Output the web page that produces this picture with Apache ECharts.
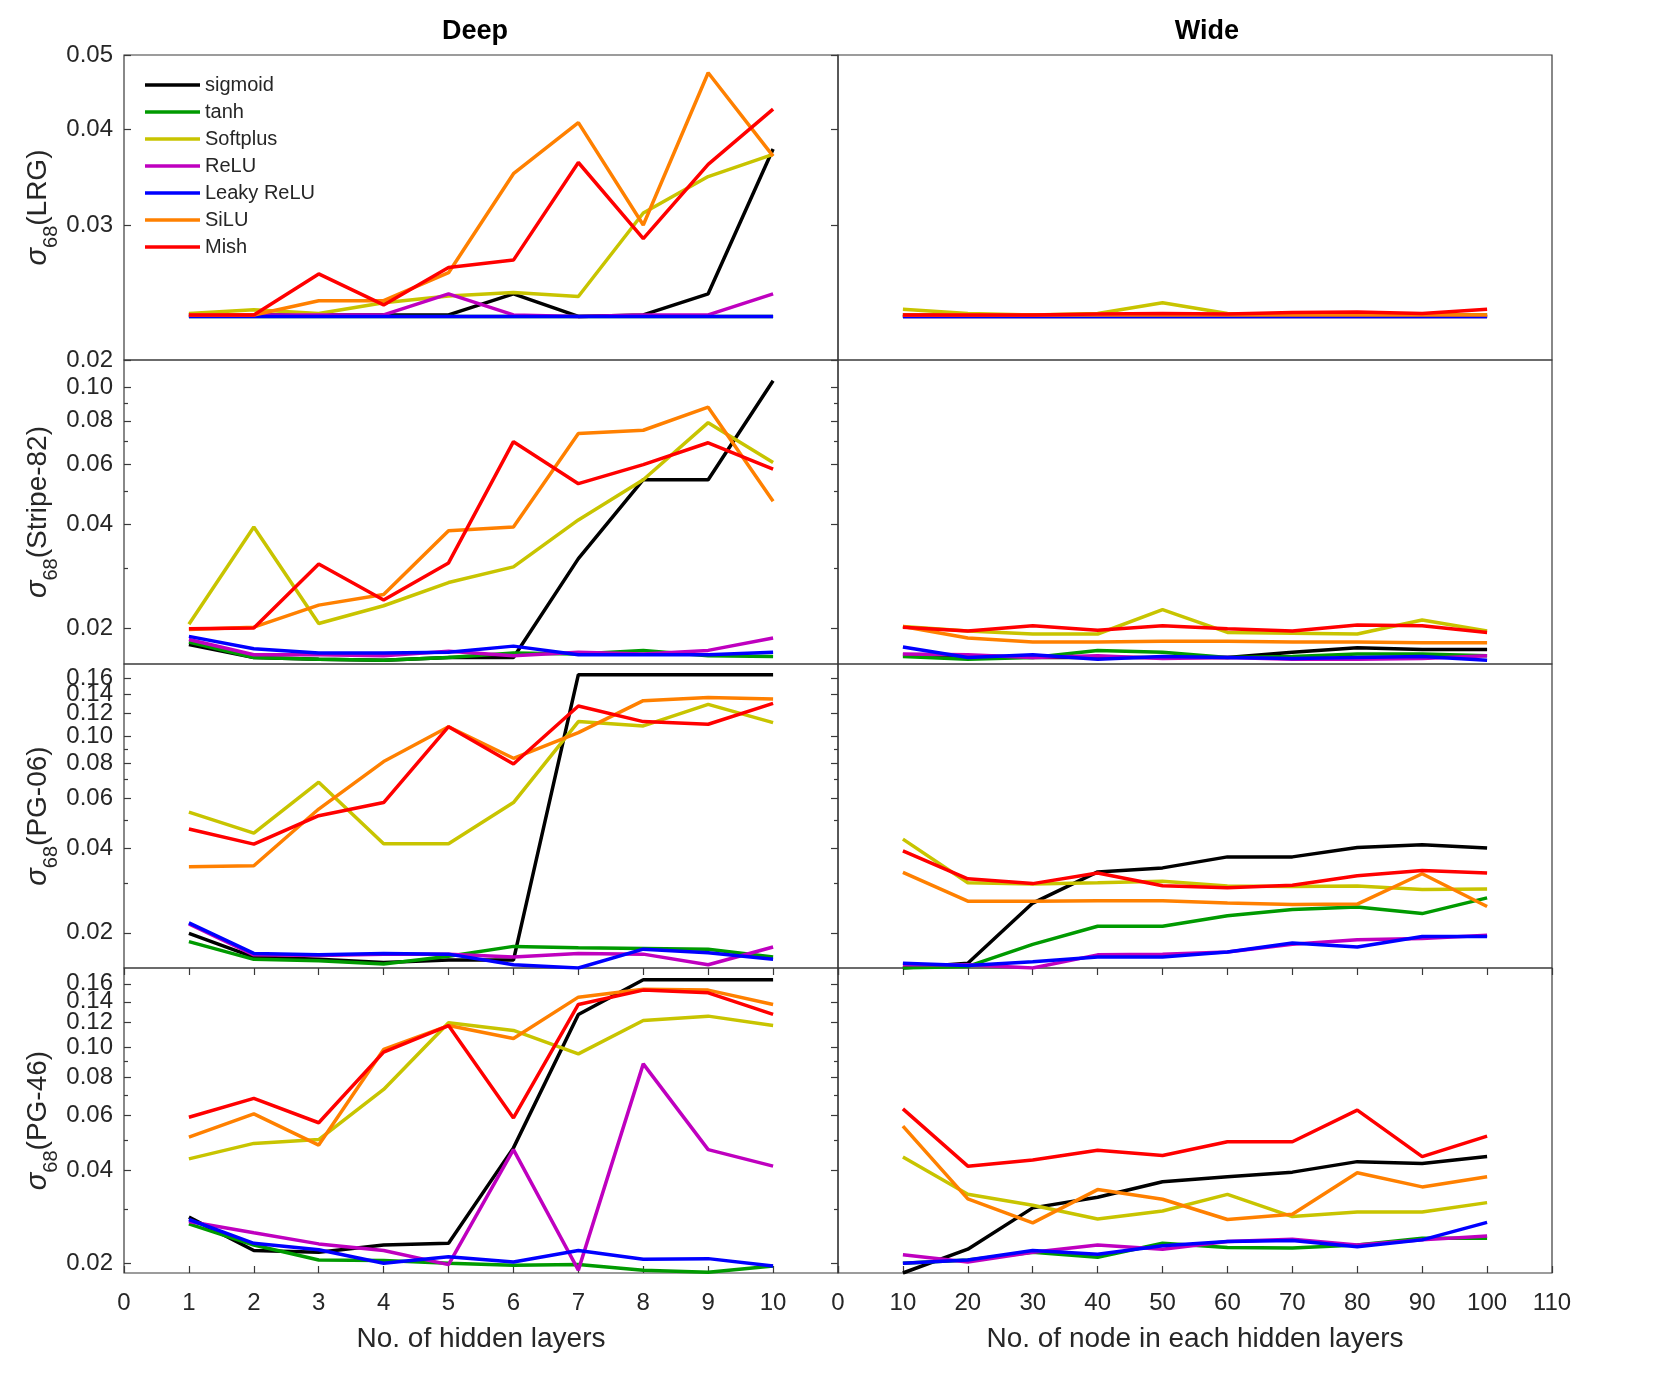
<!DOCTYPE html>
<html>
<head>
<meta charset="utf-8">
<script src="https://cdn.jsdelivr.net/npm/echarts@6.0.0/dist/echarts.min.js"></script>
<style>
html,body{margin:0;padding:0;background:#ffffff;}
#chart{width:1661px;height:1384px;}
</style>
</head>
<body>
<div id="chart"></div>
<script>
// ---------------- DATA ----------------
const seriesNames = ['sigmoid', 'tanh', 'Softplus', 'ReLU', 'Leaky ReLU', 'SiLU', 'Mish'];
const xDeep = [1, 2, 3, 4, 5, 6, 7, 8, 9, 10];
const xWide = [10, 20, 30, 40, 50, 60, 70, 80, 90, 100];
const rowLabels = ['LRG', 'Stripe-82', 'PG-06', 'PG-46'];
const panelTitles = ['Deep', 'Wide'];
const xNames = ['No. of hidden layers', 'No. of node in each hidden layers'];

// LRG - Deep
const lrgDeep_sigmoid  = [0.0229, 0.0229, 0.0229, 0.0229, 0.0229, 0.0244, 0.0228, 0.0229, 0.0244, 0.0377];
const lrgDeep_tanh     = [0.0228, 0.0228, 0.0228, 0.0228, 0.0228, 0.0228, 0.0228, 0.0228, 0.0228, 0.0228];
const lrgDeep_softplus = [0.0230, 0.02326, 0.0230, 0.02375, 0.02424, 0.0245, 0.0242, 0.0311, 0.0347, 0.0371];
const lrgDeep_relu     = [0.0229, 0.0229, 0.0229, 0.0229, 0.0244, 0.0229, 0.0228, 0.0229, 0.0229, 0.0244];
const lrgDeep_leaky    = [0.0228, 0.0228, 0.0228, 0.0228, 0.0228, 0.0228, 0.0228, 0.0228, 0.0228, 0.0228];
const lrgDeep_silu     = [0.0229, 0.0229, 0.0239, 0.0239, 0.0260, 0.0350, 0.0408, 0.0300, 0.0474, 0.0369];
const lrgDeep_mish     = [0.0229, 0.0229, 0.0259, 0.0236, 0.0264, 0.0270, 0.0362, 0.0288, 0.0360, 0.0425];
// LRG - Wide
const lrgWide_sigmoid  = [0.0229, 0.0229, 0.0229, 0.0229, 0.0229, 0.0229, 0.0229, 0.0229, 0.0229, 0.0229];
const lrgWide_tanh     = [0.0228, 0.0228, 0.0228, 0.0228, 0.0228, 0.0228, 0.0228, 0.0228, 0.0228, 0.0228];
const lrgWide_softplus = [0.0233, 0.0230, 0.0229, 0.0230, 0.02375, 0.0230, 0.0229, 0.0229, 0.0229, 0.0229];
const lrgWide_relu     = [0.0228, 0.0228, 0.0228, 0.0228, 0.0228, 0.0228, 0.0228, 0.0228, 0.0228, 0.0228];
const lrgWide_leaky    = [0.0228, 0.0228, 0.0228, 0.0228, 0.0228, 0.0228, 0.0228, 0.0228, 0.0228, 0.0228];
const lrgWide_silu     = [0.0229, 0.0229, 0.0229, 0.0229, 0.0229, 0.0229, 0.0229, 0.0229, 0.0229, 0.0229];
const lrgWide_mish     = [0.0229, 0.0229, 0.0229, 0.02296, 0.0230, 0.02296, 0.02306, 0.0231, 0.0230, 0.0233];

// Stripe-82 - Deep
const s82Deep_sigmoid  = [0.0180, 0.0165, 0.0163, 0.0162, 0.0165, 0.0165, 0.0319, 0.0540, 0.0540, 0.1045];
const s82Deep_tanh     = [0.0183, 0.0165, 0.0163, 0.0162, 0.0165, 0.0170, 0.0169, 0.0173, 0.0167, 0.0166];
const s82Deep_softplus = [0.0206, 0.0394, 0.0207, 0.0233, 0.0272, 0.0302, 0.0413, 0.0540, 0.0790, 0.0606];
const s82Deep_relu     = [0.0186, 0.0168, 0.0168, 0.0167, 0.0172, 0.0167, 0.0171, 0.0169, 0.0173, 0.0188];
const s82Deep_leaky    = [0.0190, 0.0175, 0.0170, 0.0170, 0.0171, 0.0178, 0.0168, 0.0168, 0.0168, 0.0171];
const s82Deep_silu     = [0.0199, 0.0202, 0.0234, 0.0251, 0.0384, 0.0394, 0.0735, 0.0751, 0.0876, 0.0468];
const s82Deep_mish     = [0.0200, 0.0201, 0.0308, 0.0242, 0.0310, 0.0696, 0.0526, 0.0597, 0.0691, 0.0580];
// Stripe-82 - Wide
const s82Wide_sigmoid  = [0.0168, 0.0167, 0.0165, 0.0165, 0.0165, 0.0165, 0.0171, 0.0176, 0.0174, 0.0174];
const s82Wide_tanh     = [0.0166, 0.0163, 0.0165, 0.0173, 0.0171, 0.0165, 0.0166, 0.0169, 0.0169, 0.0167];
const s82Wide_softplus = [0.0203, 0.0197, 0.0193, 0.0193, 0.0227, 0.0195, 0.0194, 0.0193, 0.0212, 0.0197];
const s82Wide_relu     = [0.0169, 0.0168, 0.0165, 0.0167, 0.0164, 0.0165, 0.0163, 0.0163, 0.0164, 0.0167];
const s82Wide_leaky    = [0.0177, 0.0165, 0.0168, 0.0163, 0.0166, 0.0165, 0.0164, 0.0165, 0.0166, 0.0162];
const s82Wide_silu     = [0.0203, 0.0188, 0.0183, 0.0183, 0.0184, 0.0184, 0.0183, 0.0183, 0.0182, 0.0182];
const s82Wide_mish     = [0.0202, 0.0197, 0.0204, 0.0198, 0.0204, 0.0200, 0.0197, 0.0205, 0.0204, 0.0195];

// PG-06 - Deep
const pg06Deep_sigmoid  = [0.0199, 0.0164, 0.0161, 0.0157, 0.0160, 0.0160, 0.1650, 0.1650, 0.1650, 0.1650];
const pg06Deep_tanh     = [0.0186, 0.0161, 0.0159, 0.0155, 0.0165, 0.0179, 0.0177, 0.0176, 0.0175, 0.0164];
const pg06Deep_softplus = [0.0536, 0.0452, 0.0685, 0.0414, 0.0414, 0.0580, 0.1124, 0.1085, 0.1294, 0.1115];
const pg06Deep_relu     = [0.0215, 0.0167, 0.0166, 0.0168, 0.0168, 0.0164, 0.0169, 0.0168, 0.0154, 0.0178];
const pg06Deep_leaky    = [0.0217, 0.0169, 0.0167, 0.0169, 0.0168, 0.0154, 0.0150, 0.0175, 0.0170, 0.0161];
const pg06Deep_silu     = [0.0343, 0.0346, 0.0550, 0.0811, 0.1078, 0.0833, 0.1027, 0.1334, 0.1370, 0.1352];
const pg06Deep_mish     = [0.0467, 0.0413, 0.0521, 0.0580, 0.1078, 0.0795, 0.1277, 0.1124, 0.1100, 0.1305];
// PG-06 - Wide
const pg06Wide_sigmoid  = [0.0150, 0.0156, 0.0255, 0.0329, 0.0340, 0.0372, 0.0372, 0.0402, 0.0411, 0.0400];
const pg06Wide_tanh     = [0.0150, 0.0152, 0.0182, 0.0211, 0.0211, 0.0230, 0.0242, 0.0247, 0.0234, 0.0266];
const pg06Wide_softplus = [0.0430, 0.0301, 0.0298, 0.0301, 0.0305, 0.0293, 0.0292, 0.0293, 0.0285, 0.0286];
const pg06Wide_relu     = [0.0154, 0.0154, 0.0150, 0.0167, 0.0168, 0.0171, 0.0182, 0.0189, 0.0191, 0.0196];
const pg06Wide_leaky    = [0.0156, 0.0153, 0.0158, 0.0164, 0.0164, 0.0171, 0.0184, 0.0178, 0.0194, 0.0194];
const pg06Wide_silu     = [0.0328, 0.0259, 0.0259, 0.0260, 0.0260, 0.0255, 0.0252, 0.0253, 0.0324, 0.0248];
const pg06Wide_mish     = [0.0391, 0.0311, 0.0299, 0.0326, 0.0294, 0.0289, 0.0295, 0.0319, 0.0333, 0.0326];

// PG-46 - Deep
const pg46Deep_sigmoid  = [0.0282, 0.0220, 0.0217, 0.0229, 0.0232, 0.0472, 0.1274, 0.1650, 0.1650, 0.1650];
const pg46Deep_tanh     = [0.0268, 0.0229, 0.0205, 0.0204, 0.0200, 0.0197, 0.0198, 0.0190, 0.0187, 0.0196];
const pg46Deep_softplus = [0.0435, 0.0488, 0.0502, 0.0729, 0.1197, 0.1131, 0.0950, 0.1218, 0.1258, 0.1173];
const pg46Deep_relu     = [0.0273, 0.0251, 0.0231, 0.0220, 0.0198, 0.0466, 0.0190, 0.0882, 0.0466, 0.0412];
const pg46Deep_leaky    = [0.0277, 0.0232, 0.0221, 0.0200, 0.0210, 0.0202, 0.0220, 0.0206, 0.0207, 0.0196];
const pg46Deep_silu     = [0.0511, 0.0608, 0.0482, 0.0982, 0.1173, 0.1065, 0.1449, 0.1536, 0.1527, 0.1372];
const pg46Deep_mish     = [0.0593, 0.0682, 0.0569, 0.0962, 0.1173, 0.0590, 0.1372, 0.1527, 0.1496, 0.1274];
// PG-46 - Wide
const pg46Wide_sigmoid  = [0.0186, 0.0222, 0.0302, 0.0327, 0.0367, 0.0381, 0.0394, 0.0426, 0.0420, 0.0443];
const pg46Wide_tanh     = [0.0200, 0.0205, 0.0217, 0.0209, 0.0232, 0.0225, 0.0224, 0.0229, 0.0241, 0.0241];
const pg46Wide_softplus = [0.0441, 0.0334, 0.0308, 0.0278, 0.0295, 0.0334, 0.0283, 0.0293, 0.0293, 0.0314];
const pg46Wide_relu     = [0.0213, 0.0202, 0.0217, 0.0229, 0.0222, 0.0235, 0.0239, 0.0229, 0.0238, 0.0245];
const pg46Wide_leaky    = [0.0200, 0.0205, 0.0220, 0.0214, 0.0228, 0.0235, 0.0237, 0.0226, 0.0238, 0.0271];
const pg46Wide_silu     = [0.0555, 0.0323, 0.0270, 0.0346, 0.0322, 0.0277, 0.0288, 0.0392, 0.0353, 0.0381];
const pg46Wide_mish     = [0.0631, 0.0412, 0.0431, 0.0464, 0.0446, 0.0494, 0.0494, 0.0625, 0.0442, 0.0515];

// Axis ranges and tick values (log-scaled y axes)
const yRanges = [[0.02, 0.05], [0.0158, 0.12], [0.015, 0.18], [0.0186, 0.18]];
const yMajorTicks = [
  [0.02, 0.03, 0.04, 0.05],
  [0.02, 0.04, 0.06, 0.08, 0.10],
  [0.02, 0.04, 0.06, 0.08, 0.10, 0.12, 0.14, 0.16],
  [0.02, 0.04, 0.06, 0.08, 0.10, 0.12, 0.14, 0.16]
];
const yMinorTicks = [
  [],
  [0.03, 0.05, 0.07, 0.09],
  [0.03, 0.05, 0.07, 0.09],
  [0.03, 0.05, 0.07, 0.09]
];

// ---------------- STYLE / LAYOUT ----------------
const colors = ['#000000', '#009a00', '#c8c400', '#bf00bf', '#0000ff', '#ff8000', '#ff0000'];
const panelData = [
  [[lrgDeep_sigmoid, lrgDeep_tanh, lrgDeep_softplus, lrgDeep_relu, lrgDeep_leaky, lrgDeep_silu, lrgDeep_mish],
   [lrgWide_sigmoid, lrgWide_tanh, lrgWide_softplus, lrgWide_relu, lrgWide_leaky, lrgWide_silu, lrgWide_mish]],
  [[s82Deep_sigmoid, s82Deep_tanh, s82Deep_softplus, s82Deep_relu, s82Deep_leaky, s82Deep_silu, s82Deep_mish],
   [s82Wide_sigmoid, s82Wide_tanh, s82Wide_softplus, s82Wide_relu, s82Wide_leaky, s82Wide_silu, s82Wide_mish]],
  [[pg06Deep_sigmoid, pg06Deep_tanh, pg06Deep_softplus, pg06Deep_relu, pg06Deep_leaky, pg06Deep_silu, pg06Deep_mish],
   [pg06Wide_sigmoid, pg06Wide_tanh, pg06Wide_softplus, pg06Wide_relu, pg06Wide_leaky, pg06Wide_silu, pg06Wide_mish]],
  [[pg46Deep_sigmoid, pg46Deep_tanh, pg46Deep_softplus, pg46Deep_relu, pg46Deep_leaky, pg46Deep_silu, pg46Deep_mish],
   [pg46Wide_sigmoid, pg46Wide_tanh, pg46Wide_softplus, pg46Wide_relu, pg46Wide_leaky, pg46Wide_silu, pg46Wide_mish]]
];

const FONT = '"Liberation Sans", Arimo, Arial, Helvetica, sans-serif';
const TEXT = '#262626';
const BORDER = '#3a3a3a';
const TOPS = [55, 360, 664, 968];
const HEIGHTS = [305, 304, 304, 305];
const LEFTS = [124, 838];
const WIDTH = 714;
const LINE_W = 3.5;

const grids = [], xAxes = [], yAxes = [], series = [];

for (let r = 0; r < 4; r++) {
  for (let c = 0; c < 2; c++) {
    const gi = grids.length;
    const bottomRow = (r === 3);
    const xMax = c === 0 ? 11 : 110;
    const xInt = c === 0 ? 1 : 10;
    grids.push({
      left: LEFTS[c], top: TOPS[r], width: WIDTH, height: HEIGHTS[r],
      show: true, borderColor: BORDER, borderWidth: 1.2, backgroundColor: 'transparent'
    });
    const xi = xAxes.length;
    xAxes.push({
      type: 'value', gridIndex: gi, min: 0, max: xMax, interval: xInt, position: 'bottom',
      axisLine: { show: false }, splitLine: { show: false },
      axisTick: { show: bottomRow, inside: true, length: 7, lineStyle: { color: BORDER, width: 1.2 } },
      axisLabel: {
        show: bottomRow, margin: 18, fontSize: 24, color: TEXT, fontFamily: FONT,
        showMinLabel: true, showMaxLabel: true,
        formatter: (v) => (c === 0 && v === 11) ? '' : String(v)
      },
      name: bottomRow ? xNames[c] : '', nameLocation: 'middle', nameGap: 52,
      nameTextStyle: { fontSize: 28, color: TEXT, fontFamily: FONT }
    });
    if (bottomRow) {
      xAxes.push({
        type: 'value', gridIndex: gi, min: 0, max: xMax, interval: xInt, position: 'top',
        axisLine: { show: false }, splitLine: { show: false },
        axisTick: { show: true, inside: true, length: 7, lineStyle: { color: BORDER, width: 1.2 } },
        axisLabel: { show: false }
      });
    }
    const yi = yAxes.length;
    yAxes.push({
      type: 'log', logBase: 10, gridIndex: gi, min: yRanges[r][0], max: yRanges[r][1],
      axisLine: { show: false }, axisTick: { show: false }, axisLabel: { show: false },
      splitLine: { show: false }, minorTick: { show: false }
    });
    if (c === 0) {
      const lmin = Math.log10(yRanges[r][0]);
      const lmax = Math.log10(yRanges[r][1]);
      const majors = yMajorTicks[r].map((v) => Math.log10(v));
      const minors = yMinorTicks[r].map((v) => Math.log10(v));
      // tick-only overlay axes (log10 space, values from the tick arrays)
      const tickAxis = (pos, vals, len) => ({
        type: 'value', gridIndex: gi, position: pos, min: lmin, max: lmax,
        axisLine: { show: false }, splitLine: { show: false },
        axisTick: { show: true, inside: true, length: len, customValues: vals,
                    lineStyle: { color: BORDER, width: 1.2 } },
        axisLabel: { show: false }
      });
      // label-only overlay axes; alternate labels on two axes so overlapping ones are all kept
      const labelAxis = (vals) => ({
        type: 'value', gridIndex: gi, position: 'left', min: lmin, max: lmax,
        axisLine: { show: false }, splitLine: { show: false },
        axisTick: { show: false },
        axisLabel: {
          show: true, customValues: vals, margin: 11, fontSize: 24, color: TEXT, fontFamily: FONT,
          showMinLabel: true, showMaxLabel: true, hideOverlap: false,
          formatter: (v) => Math.pow(10, v).toFixed(2)
        }
      });
      const evenLabels = majors.filter((v, i) => i % 2 === 0);
      const oddLabels = majors.filter((v, i) => i % 2 === 1);
      const named = labelAxis(evenLabels);
      named.name = '{s|σ}{sub|68}{p|(' + rowLabels[r] + ')}';
      named.nameLocation = 'middle';
      named.nameRotate = 90;
      named.nameGap = 63;
      named.nameTextStyle = {
        color: TEXT, fontFamily: FONT, fontSize: 28,
        rich: {
          s: { fontSize: 29, fontStyle: 'italic', color: TEXT, fontFamily: FONT, lineHeight: 46, verticalAlign: 'middle' },
          sub: { fontSize: 20, color: TEXT, fontFamily: FONT, lineHeight: 19, verticalAlign: 'bottom' },
          p: { fontSize: 28, color: TEXT, fontFamily: FONT, lineHeight: 46, verticalAlign: 'middle' }
        }
      };
      yAxes.push(named);
      if (oddLabels.length) yAxes.push(labelAxis(oddLabels));
      yAxes.push(tickAxis('left', majors, 7));
      if (minors.length) yAxes.push(tickAxis('left', minors, 4));
      yAxes.push(tickAxis('right', majors, 7));
      if (minors.length) yAxes.push(tickAxis('right', minors, 4));
    }
    const xs = c === 0 ? xDeep : xWide;
    panelData[r][c].forEach((vals, si) => {
      series.push({
        type: 'line', name: seriesNames[si], xAxisIndex: xi, yAxisIndex: yi,
        data: xs.map((x, i) => [x, vals[i]]),
        symbol: 'none', showSymbol: false, clip: true, silent: true,
        lineStyle: { width: LINE_W, color: colors[si] },
        itemStyle: { color: colors[si] },
        emphasis: { disabled: true }
      });
    });
  }
}

const option = {
  backgroundColor: '#ffffff',
  animation: false,
  grid: grids,
  xAxis: xAxes,
  yAxis: yAxes,
  series: series,
  legend: {
    orient: 'vertical', left: 145, top: 75, padding: 0,
    icon: 'rect', itemWidth: 55, itemHeight: 3.5, itemGap: 7, selectedMode: false,
    data: seriesNames,
    textStyle: { fontSize: 20, color: TEXT, fontFamily: FONT, lineHeight: 20 }
  },
  graphic: [
    { type: 'text', x: 475, y: 32, style: { text: panelTitles[0], font: 'bold 27px ' + FONT, fill: '#000', align: 'center', verticalAlign: 'middle' } },
    { type: 'text', x: 1207, y: 32, style: { text: panelTitles[1], font: 'bold 27px ' + FONT, fill: '#000', align: 'center', verticalAlign: 'middle' } }
  ]
};

const chart = echarts.init(document.getElementById('chart'), null, { renderer: 'canvas' });
chart.setOption(option);
</script>
</body>
</html>
